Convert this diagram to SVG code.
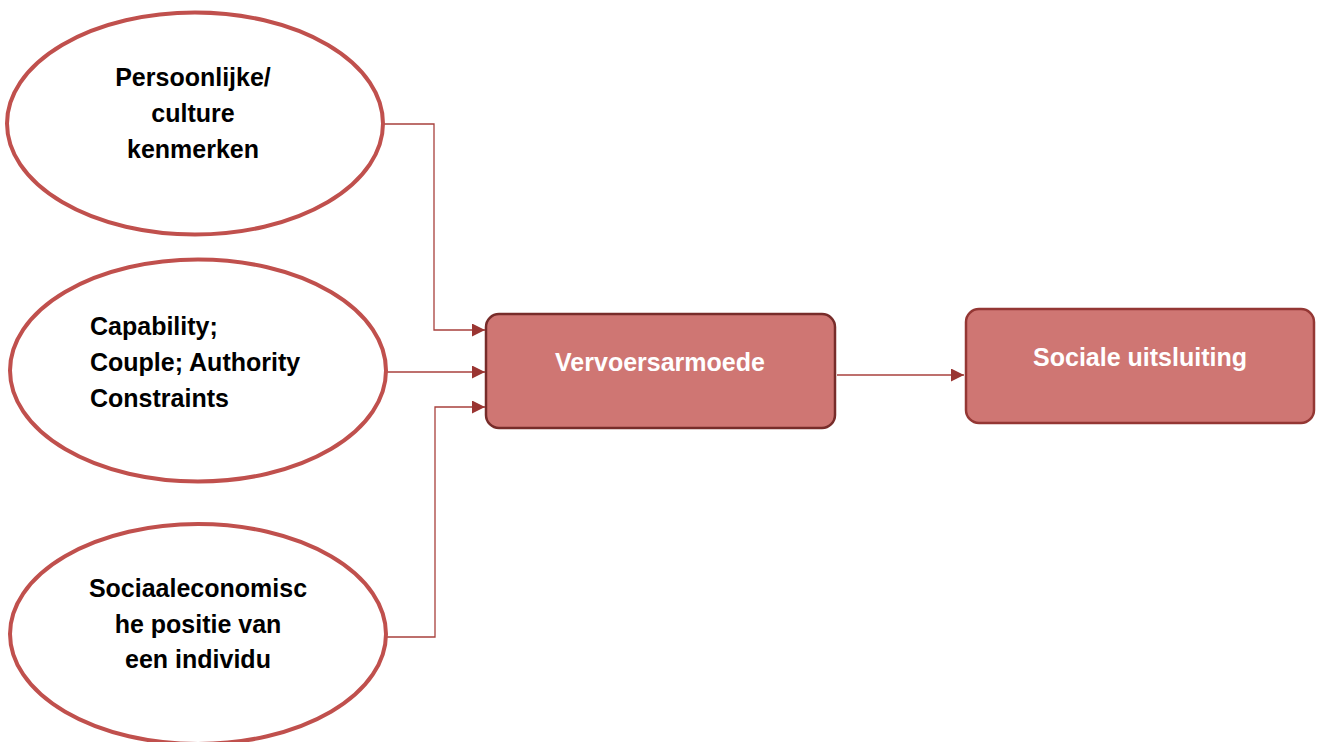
<svg xmlns="http://www.w3.org/2000/svg" width="1318" height="742" viewBox="0 0 1318 742">
<style>
.ell{fill:#fff;stroke:#C0504D;stroke-width:4}
.lbl{font-family:"Liberation Sans",Arial,sans-serif;font-weight:bold;font-size:25px;fill:#000}
.box{fill:#CF7673;stroke-width:2.5}
.wt{font-family:"Liberation Sans",Arial,sans-serif;font-weight:bold;font-size:25px;fill:#fff}
.con{fill:none;stroke:#A8403C;stroke-width:1.3}
</style>
<defs>
<marker id="ah" viewBox="0 0 10 10" refX="10" refY="5" markerWidth="13" markerHeight="13" markerUnits="userSpaceOnUse" orient="auto">
<path d="M0,0 L10,5 L0,10 z" fill="#9A3532"/>
</marker>
</defs>
<g id="connectors">
<path class="con" d="M383,124 H434 V330 H485" marker-end="url(#ah)"/>
<path class="con" d="M386,372 H485" marker-end="url(#ah)"/>
<path class="con" d="M386,637 H435 V407 H485" marker-end="url(#ah)"/>
<path class="con" d="M837,375 H964" marker-end="url(#ah)"/>
</g>
<g id="n1">
<ellipse class="ell" cx="195" cy="123.5" rx="188" ry="111"/>
<text class="lbl" text-anchor="middle"><tspan x="193" y="86">Persoonlijke/</tspan><tspan x="193" y="122">culture</tspan><tspan x="193" y="158">kenmerken</tspan></text>
</g>
<g id="n2">
<ellipse class="ell" cx="198" cy="370.5" rx="188" ry="111"/>
<text class="lbl"><tspan x="90" y="335">Capability;</tspan><tspan x="90" y="371">Couple; Authority</tspan><tspan x="90" y="407">Constraints</tspan></text>
</g>
<g id="n3">
<ellipse class="ell" cx="198" cy="634" rx="188" ry="110"/>
<text class="lbl" text-anchor="middle"><tspan x="198" y="597">Sociaaleconomisc</tspan><tspan x="198" y="633">he positie van</tspan><tspan x="198" y="668">een individu</tspan></text>
</g>
<g id="n4">
<rect class="box" x="486" y="314" width="349" height="114" rx="13" stroke="#772C2A"/>
<text class="wt" x="660" y="371" text-anchor="middle">Vervoersarmoede</text>
</g>
<g id="n5">
<rect class="box" x="966" y="309" width="348" height="114" rx="13" stroke="#943734"/>
<text class="wt" x="1140" y="366" text-anchor="middle">Sociale uitsluiting</text>
</g>
</svg>
